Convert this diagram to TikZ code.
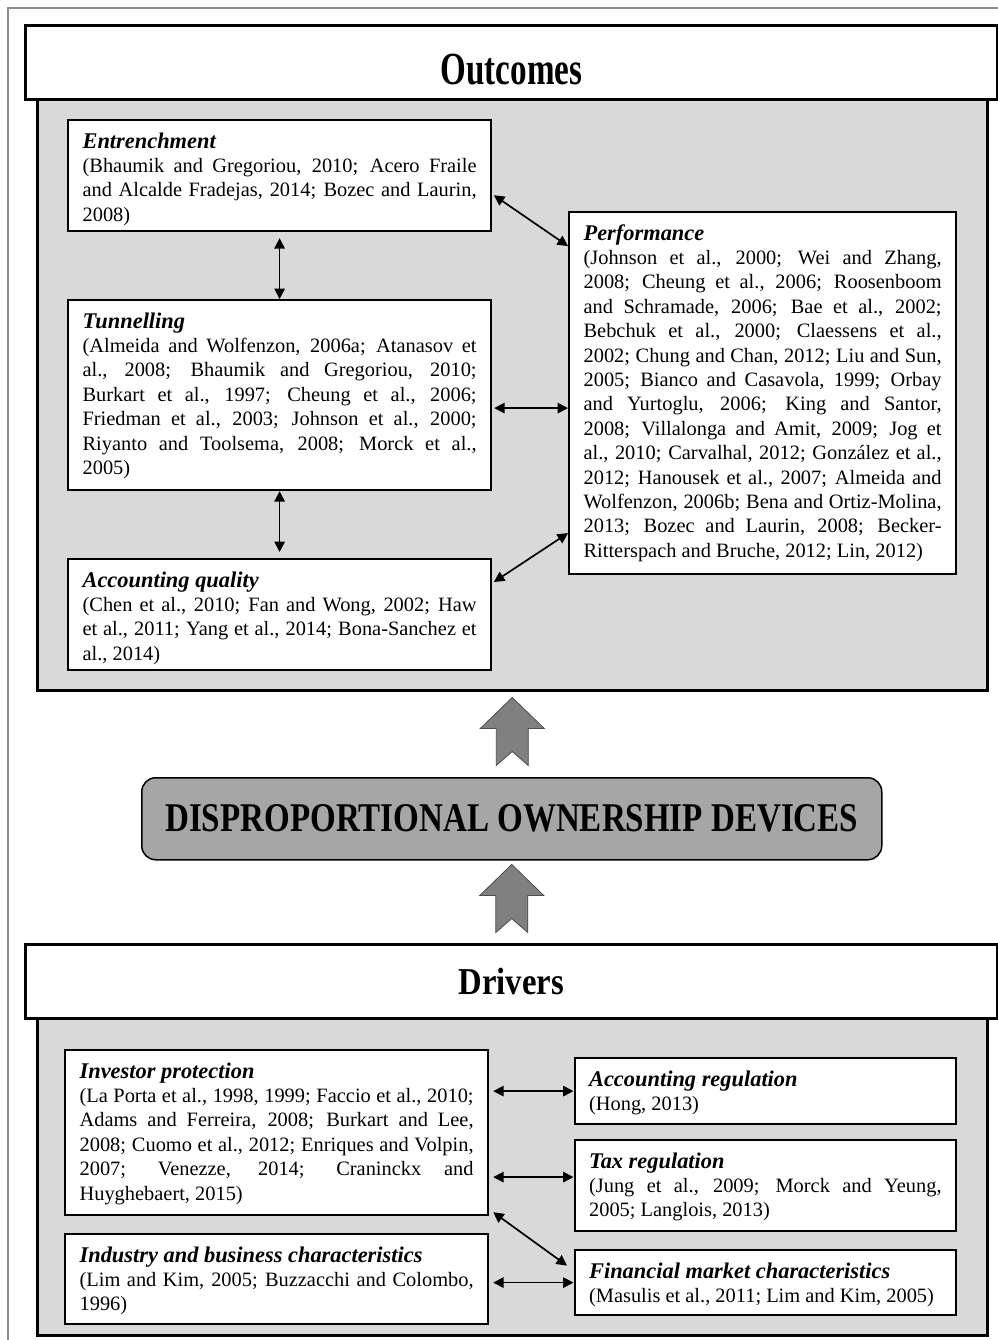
\documentclass[tikz,border=0pt]{standalone}
\usepackage{fontspec}
\setmainfont{Liberation Serif}
\usetikzlibrary{arrows.meta,calc}
\definecolor{panelgray}{HTML}{D9D9D9}
\definecolor{dodgray}{HTML}{A6A6A6}
\definecolor{arrowgray}{HTML}{808080}
\definecolor{framegray}{HTML}{8C8C8C}
\newcommand\bodysize{\fontsize{20.4pt}{24.4pt}\selectfont}
\newcommand\headsize{\fontsize{22.4pt}{24.4pt}\selectfont}
\newcommand\boxcontent[4]{\parbox[c][#2][t]{#1}{\rule{0pt}{28pt}{\headsize\bfseries\itshape #3}\par\bodysize #4\par}}
\begin{document}
\begin{tikzpicture}[x=1pt,y=-1pt,
  cbox/.style={draw=black, fill=white, line width=2.2pt, inner xsep=14.5pt, inner ysep=0pt, anchor=north west},
  panel/.style={draw=black, fill=panelgray, line width=2.5pt, inner sep=0pt, anchor=north west},
  titlebox/.style={draw=black, fill=white, line width=2.8pt, inner sep=0pt, anchor=north west},
  conn/.style={{Triangle[length=10.5pt,width=10.5pt]}-{Triangle[length=10.5pt,width=10.5pt]}, line width=1.7pt},
  blockarr/.style={fill=arrowgray, draw=black!70, line width=0.8pt, line join=miter}]
\useasboundingbox (0,0) rectangle (997,1340);
\fill[white] (0,0) rectangle (997,1340);
\draw[framegray, line width=1.2pt] (8,1345) -- (8,8) -- (1000,8);

% Outcomes
\node[panel, minimum width=950pt, minimum height=591pt] (outpanel) at (36,98) {};
\node[titlebox, minimum width=972pt, minimum height=74pt] (outtitle) at (24,24)
  {\raisebox{-7pt}[\height][\depth]{\scalebox{0.72}[1]{\fontsize{46pt}{46pt}\selectfont\bfseries Outcomes}}};

\node[cbox] (ent) at (67,119) {\boxcontent{394pt}{111pt}{Entrenchment}{(Bhaumik and Gregoriou, 2010; Acero Fraile\linebreak and Alcalde Fradejas, 2014; Bozec and Laurin,\linebreak 2008)}};
\node[cbox] (tun) at (67,299) {\boxcontent{394pt}{190pt}{Tunnelling}{(Almeida and Wolfenzon, 2006a; Atanasov et\linebreak al., 2008; Bhaumik and Gregoriou, 2010;\linebreak Burkart et al., 1997; Cheung et al., 2006;\linebreak Friedman et al., 2003; Johnson et al., 2000;\linebreak Riyanto and Toolsema, 2008; Morck et al.,\linebreak 2005)}};
\node[cbox] (acc) at (67,558) {\boxcontent{394pt}{111pt}{Accounting quality}{(Chen et al., 2010; Fan and Wong, 2002; Haw\linebreak et al., 2011; Yang et al., 2014; Bona-Sanchez et\linebreak al., 2014)}};
\node[cbox] (perf) at (568,211) {\boxcontent{358pt}{362pt}{Performance}{(Johnson et al., 2000; Wei and Zhang,\linebreak 2008; Cheung et al., 2006; Roosenboom\linebreak and Schramade, 2006; Bae et al., 2002;\linebreak Bebchuk et al., 2000; Claessens et al.,\linebreak 2002; Chung and Chan, 2012; Liu and Sun,\linebreak 2005; Bianco and Casavola, 1999; Orbay\linebreak and Yurtoglu, 2006; King and Santor,\linebreak 2008; Villalonga and Amit, 2009; Jog et\linebreak al., 2010; Carvalhal, 2012; González et al.,\linebreak 2012; Hanousek et al., 2007; Almeida and\linebreak Wolfenzon, 2006b; Bena and Ortiz-Molina,\linebreak 2013; Bozec and Laurin, 2008; Becker-\linebreak Ritterspach and Bruche, 2012; Lin, 2012)}};

\draw[conn, shorten <=6pt] (ent.south) -- (tun.north);
\draw[conn, shorten >=6pt] (tun.south) -- (acc.north);
\draw[conn, shorten <=2pt] ([yshift=-18.5pt]ent.east) -- ([yshift=147pt]perf.west);
\draw[conn, shorten <=2pt] ([yshift=-13pt]tun.east) -- ([yshift=-13pt]tun.east -| perf.west);
\draw[conn, shorten <=2pt] ([yshift=31.5pt]acc.east) -- ([yshift=-140pt]perf.west);

% Central
\node[draw=black, fill=dodgray, rounded corners=14pt, line width=1.5pt, minimum width=740pt, minimum height=82pt, inner sep=0pt, anchor=north west] (dod) at (141,777)
  {\scalebox{0.81}[1]{\fontsize{40.8pt}{41pt}\selectfont\bfseries DISPROPORTIONAL OWNERSHIP DEVICES}};
\draw[blockarr] ($(outpanel.south)+(0,6)$) -- ++(32,31) -- ++(-16,0) -- ++(0,37) -- ++(-16,-14) -- ++(-16,14) -- ++(0,-37) -- ++(-16,0) -- cycle;
\draw[blockarr] ($(dod.south)+(0,4)$) -- ++(32,31) -- ++(-16,0) -- ++(0,37) -- ++(-16,-14) -- ++(-16,14) -- ++(0,-37) -- ++(-16,0) -- cycle;

% Drivers
\node[panel, minimum width=950pt, minimum height=317pt] (drvpanel) at (36,1017) {};
\node[titlebox, minimum width=972pt, minimum height=74pt] (drvtitle) at (24,943)
  {\scalebox{0.86}[1]{\fontsize{38pt}{38pt}\selectfont\bfseries Drivers}};

\node[cbox] (inv) at (64,1049) {\boxcontent{394pt}{165pt}{Investor protection}{(La Porta et al., 1998, 1999; Faccio et al., 2010;\linebreak Adams and Ferreira, 2008; Burkart and Lee,\linebreak 2008; Cuomo et al., 2012; Enriques and Volpin,\linebreak 2007; Venezze, 2014; Craninckx and\linebreak Huyghebaert, 2015)}};
\node[cbox] (ind) at (64,1233) {\boxcontent{394pt}{90pt}{Industry and business characteristics}{(Lim and Kim, 2005; Buzzacchi and Colombo,\linebreak 1996)}};
\node[cbox] (accreg) at (573.5,1057) {\boxcontent{352.5pt}{66pt}{Accounting regulation}{(Hong, 2013)}};
\node[cbox] (tax) at (573.5,1139) {\boxcontent{352.5pt}{91pt}{Tax regulation}{(Jung et al., 2009; Morck and Yeung,\linebreak 2005; Langlois, 2013)}};
\node[cbox] (fin) at (573.5,1249) {\boxcontent{352.5pt}{65pt}{Financial market characteristics}{(Masulis et al., 2011; Lim and Kim, 2005)}};

\draw[conn, shorten <=4pt] (inv.east |- accreg.west) -- (accreg.west);
\draw[conn, shorten <=4pt] ($(inv.east |- tax.west)+(0,-8.5)$) -- ($(tax.west)+(0,-8.5)$);
\draw[conn] ($(inv.south east)+(4,-4)$) -- ($(fin.west)+(-6.5,-17)$);
\draw[conn, shorten <=4pt] (ind.east |- fin.west) -- (fin.west);
\end{tikzpicture}
\end{document}
